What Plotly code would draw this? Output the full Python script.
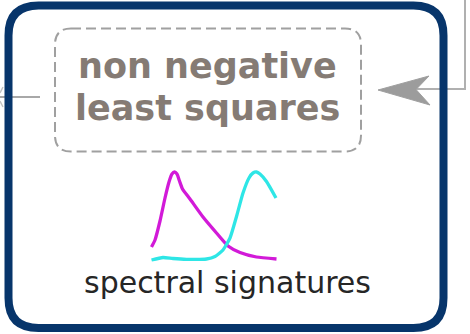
import plotly.graph_objects as go

# Spectral signature curves (pixel-space coordinates)
magenta_x = [151.5, 155, 160, 165, 169, 172, 174.5, 177, 179.5, 182.5, 190, 203, 216.5, 228, 240, 256.5, 276.5]
magenta_y = [247, 240, 221, 198, 182, 174, 172, 174, 181, 189, 199, 217, 233, 246, 252.5, 257, 259]
cyan_x = [151.5, 163, 173, 186.5, 206.5, 215, 223, 230, 236.5, 243, 249, 253, 256.5, 260, 266.5, 276]
cyan_y = [260, 257.5, 258.5, 259.3, 259, 256.5, 250, 238, 216.5, 193, 178, 173, 172, 174, 181.5, 198]

title_lines = ["non negative", "least squares"]
caption = "spectral signatures"

W, H = 470, 334

fig = go.Figure()
fig.add_trace(go.Scatter(x=magenta_x, y=magenta_y, mode="lines",
                         line=dict(color="#d21ad8", width=3.3, shape="spline", smoothing=0.5),
                         hoverinfo="skip", showlegend=False))
fig.add_trace(go.Scatter(x=cyan_x, y=cyan_y, mode="lines",
                         line=dict(color="#2ee6e6", width=3.3, shape="spline", smoothing=0.5),
                         hoverinfo="skip", showlegend=False))


def rrect(x0, y0, x1, y1, r):
    return (f"M {x0+r},{y0} L {x1-r},{y0} Q {x1},{y0} {x1},{y0+r} "
            f"L {x1},{y1-r} Q {x1},{y1} {x1-r},{y1} L {x0+r},{y1} "
            f"Q {x0},{y1} {x0},{y1-r} L {x0},{y0+r} Q {x0},{y0} {x0+r},{y0} Z")


shapes = [
    # incoming connector on the right
    dict(type="path", path="M 465,0 L 465,89 L 414,89", line=dict(color="#b0b0b0", width=2),
         xref="x", yref="y", layer="below"),
    # outgoing connector on the left
    dict(type="path", path="M 0,97 L 40,97", line=dict(color="#a8a8a8", width=2),
         xref="x", yref="y", layer="below"),
    dict(type="path", path="M 3,87 L 0,93 M 0,101 L 3,107", line=dict(color="#c4c4c4", width=1.5),
         xref="x", yref="y", layer="below"),
    # arrowhead
    dict(type="path", path="M 378,90 L 429,76 L 416,89.5 L 430,105 Z",
         fillcolor="#9c9c9c", line=dict(color="#a0a0a0", width=1), xref="x", yref="y"),
    # outer navy rounded frame
    dict(type="path", path=rrect(8.5, 5.5, 443.5, 328, 30), line=dict(color="#07356b", width=8),
         xref="x", yref="y"),
    # dashed rounded box
    dict(type="path", path=rrect(55, 28.5, 361, 151.5, 16),
         line=dict(color="#a0a0a0", width=2, dash="10px,5px"), xref="x", yref="y"),
]

annotations = [
    dict(x=207, y=66, text=title_lines[0], showarrow=False, xref="x", yref="y",
         font=dict(family="DejaVu Sans", size=35, color="#857b74", weight="bold")),
    dict(x=207, y=108, text=title_lines[1], showarrow=False, xref="x", yref="y",
         font=dict(family="DejaVu Sans", size=35, color="#857b74", weight="bold")),
    dict(x=227, y=282, text=caption, showarrow=False, xref="x", yref="y",
         font=dict(family="DejaVu Sans", size=30, color="#262626")),
]

fig.update_layout(
    width=W, height=H, margin=dict(l=0, r=0, t=0, b=0),
    paper_bgcolor="white", plot_bgcolor="white",
    xaxis=dict(range=[0, W], visible=False, fixedrange=True),
    yaxis=dict(range=[H, 0], visible=False, fixedrange=True),
    shapes=shapes, annotations=annotations, showlegend=False,
)

fig.write_html("out.html", config=dict(displayModeBar=False),
               post_script="document.body.style.margin='0';document.body.style.overflow='hidden';")
